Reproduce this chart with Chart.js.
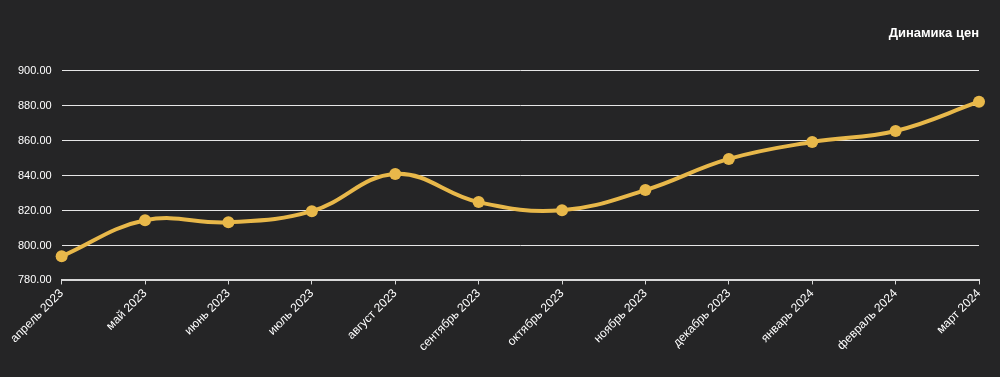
<!DOCTYPE html>
<html>
<head>
<meta charset="utf-8">
<script src="https://cdn.jsdelivr.net/npm/chart.js@4"></script>
<style>
  html, body { margin: 0; padding: 0; background: #252526; }
  #wrap { width: 1000px; height: 377px; }
</style>
</head>
<body>
<div id="wrap"><canvas id="priceChart" width="1000" height="377"></canvas></div>
<script>
const months = ['апрель 2023', 'май 2023', 'июнь 2023', 'июль 2023', 'август 2023', 'сентябрь 2023',
    'октябрь 2023', 'ноябрь 2023', 'декабрь 2023', 'январь 2024', 'февраль 2024', 'март 2024'];
const prices = [793.8, 814.4, 813.3, 819.6, 840.9, 824.8, 820.2, 831.7, 849.5, 859.2, 865.5, 882.2];
const chartTitle = 'Динамика цен';

const gold = '#e8b84a';
const fontFamily = '"Liberation Sans", Arial, sans-serif';

const ctx = document.getElementById('priceChart').getContext('2d');
new Chart(ctx, {
    type: 'line',
    data: {
        labels: months,
        datasets: [{
            label: chartTitle,
            data: prices,
            borderColor: gold,
            backgroundColor: gold,
            borderWidth: 4,
            tension: 0.4,
            pointRadius: 6,
            pointHoverRadius: 7,
            pointBackgroundColor: gold,
            pointBorderWidth: 0,
            fill: false
        }]
    },
    options: {
        responsive: false,
        animation: false,
        layout: { padding: { left: 8, right: 21, top: 9, bottom: 21 } },
        plugins: {
            legend: { display: false },
            title: {
                display: true,
                text: chartTitle,
                align: 'end',
                color: '#ffffff',
                font: { family: fontFamily, size: 13, weight: 'bold' },
                padding: { top: 17, bottom: 29 }
            },
            tooltip: { enabled: true }
        },
        scales: {
            x: {
                offset: false,
                grid: {
                    display: true,
                    drawOnChartArea: false,
                    drawTicks: true,
                    tickLength: 4,
                    color: '#d8d8d8'
                },
                border: { display: true, color: '#d8d8d8', width: 2 },
                ticks: {
                    color: '#ffffff',
                    font: { family: fontFamily, size: 12 },
                    maxRotation: 45,
                    minRotation: 45,
                    autoSkip: false,
                    padding: 2
                }
            },
            y: {
                min: 780,
                max: 900,
                grid: {
                    color: '#e6e6e6',
                    lineWidth: 1,
                    drawTicks: false
                },
                border: { display: false },
                ticks: {
                    stepSize: 20,
                    color: '#ffffff',
                    font: { family: fontFamily, size: 11 },
                    padding: 10,
                    callback: v => v.toFixed(2)
                }
            }
        }
    }
});
</script>
</body>
</html>
